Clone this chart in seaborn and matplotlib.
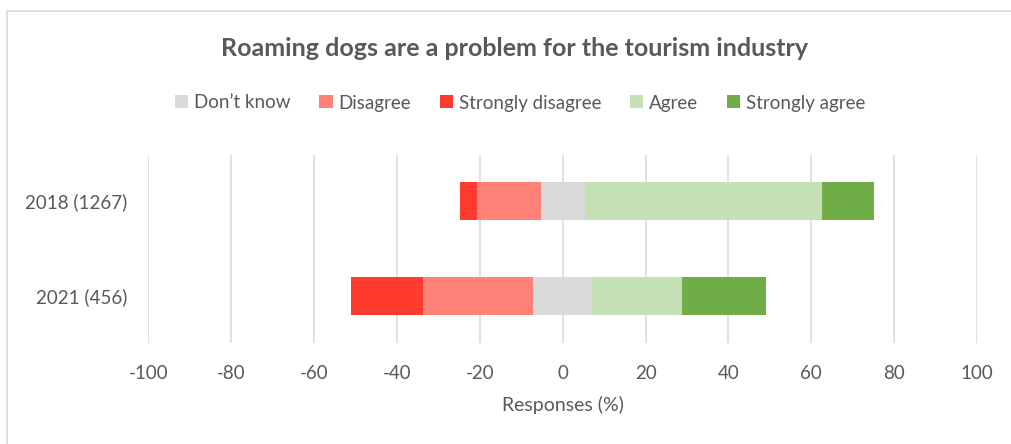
import matplotlib
matplotlib.use("Agg")
import matplotlib.pyplot as plt
from matplotlib.patches import Rectangle, Patch
import numpy as np
import pandas as pd
import seaborn as sns

# Survey groups and response shares (%)
groups = ["2018 (1267)", "2021 (456)"]
dont_know = [10.7, 14.3]
disagree = [15.3, 26.6]
strongly_disagree = [4.2, 17.3]
agree = [57.3, 21.7]
strongly_agree = [12.6, 20.2]

categories = ["Don\u2019t know", "Disagree", "Strongly disagree", "Agree", "Strongly agree"]
colors = {
    "Don\u2019t know": "#D9D9D9",
    "Disagree": "#FF8279",
    "Strongly disagree": "#FF3B30",
    "Agree": "#C5E0B4",
    "Strongly agree": "#70AD47",
}
xticks = list(range(-100, 101, 20))

sns.set_theme(style="white")
plt.rcParams["font.family"] = ["Lato", "DejaVu Sans"]

dk = np.array(dont_know)
half = dk / 2
# Cumulative segment ends: "Don't know" straddles zero, disagreement goes left, agreement right
ends = {
    "Strongly agree": half + np.array(agree) + np.array(strongly_agree),
    "Agree": half + np.array(agree),
    "Strongly disagree": -(half + np.array(disagree) + np.array(strongly_disagree)),
    "Disagree": -(half + np.array(disagree)),
    "dk_pos": half,
    "dk_neg": -half,
}

fig = plt.figure(figsize=(10.12, 4.44), dpi=100)
ax = fig.add_axes([0.1466, 0.2275, 0.9654 - 0.1466, 0.6509 - 0.2275])

order = ["Strongly agree", "Agree", "Strongly disagree", "Disagree", "dk_pos", "dk_neg"]
for key in order:
    name = "Don\u2019t know" if key.startswith("dk") else key
    df = pd.DataFrame({"group": groups, "value": ends[key]})
    sns.barplot(data=df, y="group", x="value", orient="h", ax=ax,
                color=colors[name], saturation=1, width=0.4,
                linewidth=0, zorder=3)

ax.set_xlim(-100, 100)
ax.set_ylim(1.5, -0.48)
ax.set_xticks(xticks)
ax.set_xticklabels([str(t) for t in xticks])
ax.grid(axis="x", color="#D9D9D9", linewidth=1.1, zorder=0)
ax.grid(axis="y", visible=False)
ax.set_axisbelow(True)
for s in ax.spines.values():
    s.set_visible(False)
ax.tick_params(axis="both", length=0, labelsize=13.5, labelcolor="#595959")
ax.tick_params(axis="x", pad=16)
ax.tick_params(axis="y", pad=15)
ax.set_ylabel("")
ax.set_xlabel("Responses (%)", fontsize=14, color="#595959", labelpad=10)

fig.text(0.508, 1 - 48 / 444, "Roaming dogs are a problem for the tourism industry",
         ha="center", va="center", fontsize=18, fontweight="bold", color="#595959")

handles = [Patch(facecolor=colors[c], edgecolor="none") for c in categories]
fig.legend(handles, categories, loc="center", bbox_to_anchor=(0.514, 1 - 103 / 444),
           ncol=5, frameon=False, fontsize=13.5, labelcolor="#595959",
           handlelength=0.7, handleheight=0.7, handletextpad=0.3, columnspacing=1.55)

# Chart frame
fig.patches.append(Rectangle((7 / 1012, -0.1), 1.2, 1 - 11 / 444 + 0.1,
                             transform=fig.transFigure, fill=False,
                             edgecolor="#D9D9D9", linewidth=1.2))

fig.savefig("out.png", dpi=100)
